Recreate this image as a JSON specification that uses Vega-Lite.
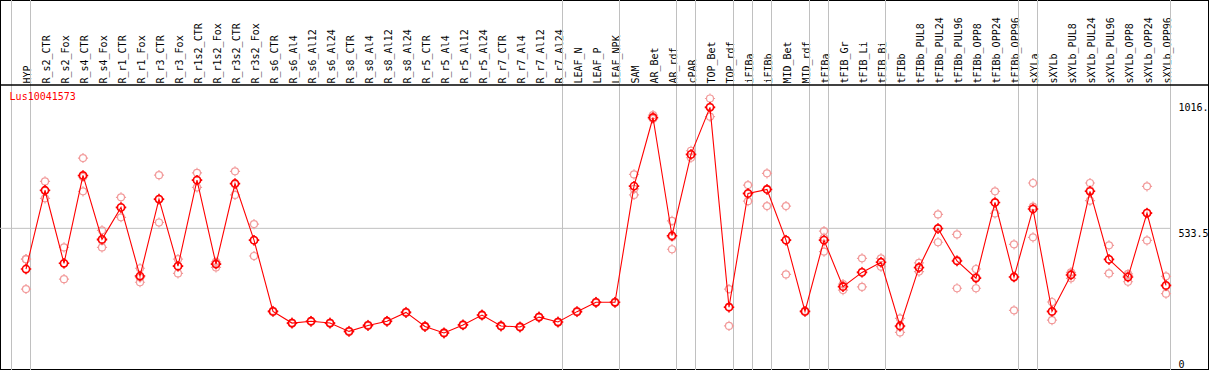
{
  "$schema": "https://vega.github.io/schema/vega-lite/v6.json",
  "width": 1209,
  "height": 370,
  "autosize": {"type": "none"},
  "padding": 0,
  "background": "white",
  "config": {
    "view": {"stroke": "black", "strokeWidth": 2},
    "font": "DejaVu Sans Mono",
    "axis": {"labelFont": "DejaVu Sans Mono", "labelFontSize": 10, "labelColor": "black", "domain": false, "ticks": false, "grid": false, "title": null}
  },
  "datasets": {
    "expr": [
      {"s": "HYP", "m": 377, "r1": 415, "r2": 415, "r3": 300},
      {"s": "R_s2_CTR", "m": 680, "r1": 714, "r2": 678, "r3": 649},
      {"s": "R_s2_Fox", "m": 399, "r1": 460, "r2": 399, "r3": 338},
      {"s": "R_s4_CTR", "m": 737, "r1": 804, "r2": 731, "r3": 676},
      {"s": "R_s4_Fox", "m": 491, "r1": 526, "r2": 487, "r3": 460},
      {"s": "R_r1_CTR", "m": 614, "r1": 653, "r2": 613, "r3": 576},
      {"s": "R_r1_Fox", "m": 350, "r1": 380, "r2": 344, "r3": 326},
      {"s": "R_r3_CTR", "m": 646, "r1": 738, "r2": 644, "r3": 556},
      {"s": "R_r3_Fox", "m": 388, "r1": 415, "r2": 389, "r3": 360},
      {"s": "R_r1s2_CTR", "m": 719, "r1": 747, "r2": 719, "r3": 691},
      {"s": "R_r1s2_Fox", "m": 396, "r1": 405, "r2": 400, "r3": 383},
      {"s": "R_r3s2_CTR", "m": 706, "r1": 753, "r2": 703, "r3": 662},
      {"s": "R_r3s2_Fox", "m": 488, "r1": 550, "r2": 487, "r3": 427},
      {"s": "R_s6_CTR", "m": 214, "r1": 216, "r2": 214, "r3": 212},
      {"s": "R_s6_Al4", "m": 169, "r1": 171, "r2": 169, "r3": 167},
      {"s": "R_s6_Al12", "m": 176, "r1": 178, "r2": 176, "r3": 174},
      {"s": "R_s6_Al24", "m": 169, "r1": 171, "r2": 169, "r3": 167},
      {"s": "R_s8_CTR", "m": 137, "r1": 139, "r2": 137, "r3": 135},
      {"s": "R_s8_Al4", "m": 160, "r1": 162, "r2": 160, "r3": 158},
      {"s": "R_s8_Al12", "m": 176, "r1": 178, "r2": 176, "r3": 174},
      {"s": "R_s8_Al24", "m": 210, "r1": 212, "r2": 210, "r3": 208},
      {"s": "R_r5_CTR", "m": 156, "r1": 158, "r2": 156, "r3": 154},
      {"s": "R_r5_Al4", "m": 131, "r1": 133, "r2": 131, "r3": 129},
      {"s": "R_r5_Al12", "m": 162, "r1": 164, "r2": 162, "r3": 160},
      {"s": "R_r5_Al24", "m": 200, "r1": 202, "r2": 200, "r3": 198},
      {"s": "R_r7_CTR", "m": 158, "r1": 160, "r2": 158, "r3": 156},
      {"s": "R_r7_Al4", "m": 154, "r1": 156, "r2": 154, "r3": 152},
      {"s": "R_r7_Al12", "m": 192, "r1": 194, "r2": 192, "r3": 190},
      {"s": "R_r7_Al24", "m": 173, "r1": 175, "r2": 173, "r3": 171},
      {"s": "LEAF_N", "m": 213, "r1": 215, "r2": 213, "r3": 211},
      {"s": "LEAF_P", "m": 249, "r1": 251, "r2": 249, "r3": 247},
      {"s": "LEAF_NPK", "m": 249, "r1": 251, "r2": 249, "r3": 247},
      {"s": "SAM", "m": 696, "r1": 741, "r2": 685, "r3": 662},
      {"s": "AR_Bet", "m": 960, "r1": 969, "r2": 956, "r3": 955},
      {"s": "AR_rdf", "m": 505, "r1": 562, "r2": 500, "r3": 453},
      {"s": "cPAR", "m": 818, "r1": 832, "r2": 817, "r3": 805},
      {"s": "TOP_Bet", "m": 999, "r1": 1033, "r2": 1001, "r3": 963},
      {"s": "TOP_rdf", "m": 230, "r1": 300, "r2": 232, "r3": 158},
      {"s": "iFIBa", "m": 668, "r1": 700, "r2": 666, "r3": 638},
      {"s": "iFIBb", "m": 683, "r1": 745, "r2": 685, "r3": 619},
      {"s": "MID_Bet", "m": 488, "r1": 619, "r2": 489, "r3": 356},
      {"s": "MID_rdf", "m": 214, "r1": 216, "r2": 214, "r3": 212},
      {"s": "tFIBa", "m": 488, "r1": 523, "r2": 497, "r3": 444},
      {"s": "tFIB_Gr", "m": 309, "r1": 319, "r2": 312, "r3": 296},
      {"s": "tFIB_Li", "m": 364, "r1": 418, "r2": 366, "r3": 308},
      {"s": "tFIB_Bi", "m": 403, "r1": 418, "r2": 405, "r3": 386},
      {"s": "tFIBb", "m": 158, "r1": 187, "r2": 154, "r3": 133},
      {"s": "tFIBb_PUL8", "m": 383, "r1": 401, "r2": 381, "r3": 367},
      {"s": "tFIBb_PUL24", "m": 533, "r1": 587, "r2": 532, "r3": 480},
      {"s": "tFIBb_PUL96", "m": 408, "r1": 510, "r2": 411, "r3": 303},
      {"s": "tFIBb_OPP8", "m": 342, "r1": 377, "r2": 346, "r3": 303},
      {"s": "tFIBb_OPP24", "m": 633, "r1": 676, "r2": 632, "r3": 591},
      {"s": "tFIBb_OPP96", "m": 346, "r1": 472, "r2": 348, "r3": 218},
      {"s": "sXYLa", "m": 608, "r1": 708, "r2": 617, "r3": 499},
      {"s": "sXYLb", "m": 214, "r1": 250, "r2": 212, "r3": 180},
      {"s": "sXYLb_PUL8", "m": 354, "r1": 364, "r2": 357, "r3": 341},
      {"s": "sXYLb_PUL24", "m": 676, "r1": 708, "r2": 680, "r3": 640},
      {"s": "sXYLb_PUL96", "m": 414, "r1": 468, "r2": 414, "r3": 360},
      {"s": "sXYLb_OPP8", "m": 346, "r1": 358, "r2": 352, "r3": 328},
      {"s": "sXYLb_OPP24", "m": 592, "r1": 695, "r2": 594, "r3": 487},
      {"s": "sXYLb_OPP96", "m": 314, "r1": 349, "r2": 311, "r3": 282}
    ],
    "groups": [
      {"s": "HYP"}, {"s": "R_s2_CTR"}, {"s": "LEAF_N"}, {"s": "SAM"}, {"s": "cPAR"}, {"s": "TOP_Bet"}, {"s": "iFIBa"}, {"s": "iFIBb"}, {"s": "MID_Bet"}, {"s": "tFIBa"}, {"s": "tFIB_Gr"}, {"s": "tFIBb"}, {"s": "sXYLa"}, {"s": "sXYLb"}
    ],
    "last": [{"s": "sXYLb_OPP96"}],
    "title": [{"s": "HYP", "label": "Lus10041573", "v": 1040}]
  },
  "layer": [
    {
      "data": {"name": "groups"},
      "mark": {"type": "rule", "color": "#c0c0c0", "strokeWidth": 1},
      "encoding": {
        "x": {"field": "s", "type": "nominal", "sort": null, "bandPosition": 0,
          "scale": {"type": "band", "domain": ["HYP","R_s2_CTR","R_s2_Fox","R_s4_CTR","R_s4_Fox","R_r1_CTR","R_r1_Fox","R_r3_CTR","R_r3_Fox","R_r1s2_CTR","R_r1s2_Fox","R_r3s2_CTR","R_r3s2_Fox","R_s6_CTR","R_s6_Al4","R_s6_Al12","R_s6_Al24","R_s8_CTR","R_s8_Al4","R_s8_Al12","R_s8_Al24","R_r5_CTR","R_r5_Al4","R_r5_Al12","R_r5_Al24","R_r7_CTR","R_r7_Al4","R_r7_Al12","R_r7_Al24","LEAF_N","LEAF_P","LEAF_NPK","SAM","AR_Bet","AR_rdf","cPAR","TOP_Bet","TOP_rdf","iFIBa","iFIBb","MID_Bet","MID_rdf","tFIBa","tFIB_Gr","tFIB_Li","tFIB_Bi","tFIBb","tFIBb_PUL8","tFIBb_PUL24","tFIBb_PUL96","tFIBb_OPP8","tFIBb_OPP24","tFIBb_OPP96","sXYLa","sXYLb","sXYLb_PUL8","sXYLb_PUL24","sXYLb_PUL96","sXYLb_OPP8","sXYLb_OPP24","sXYLb_OPP96"], "range": [11.5, 1170.5], "paddingInner": 0, "paddingOuter": 0},
          "axis": {"orient": "top", "offset": -85, "bandPosition": 0.763, "labelOffset": 7, "labelAngle": 270, "labelAlign": "left", "labelBaseline": "middle", "labelPadding": 2, "labelLimit": 0, "labelOverlap": false, "labelFlush": false}
        }
      }
    },
    {
      "data": {"name": "last"},
      "mark": {"type": "rule", "color": "#c0c0c0", "strokeWidth": 1},
      "encoding": {
        "x": {"field": "s", "type": "nominal", "sort": null, "bandPosition": 1}
      }
    },
    {
      "data": {"values": [{"v": 533.5}]},
      "mark": {"type": "rule", "color": "#c0c0c0", "strokeWidth": 1},
      "encoding": {
        "y": {"field": "v", "type": "quantitative",
          "scale": {"domain": [0, 1085], "range": [367, 85], "nice": false, "zero": false},
          "axis": {"orient": "right", "offset": -33, "values": [0, 533.5, 1016], "labelPadding": 2, "labelAlign": "left", "labelFlush": false, "labelBound": false, "labelOverlap": false,
            "labelExpr": "datum.value == 1016 ? '1016.' : (datum.value == 0 ? '0' : '533.5')",
            "labelBaseline": {"condition": {"test": "datum.value == 0", "value": "alphabetic"}, "value": "top"}}
        },
        "x": {"datum": "HYP", "type": "nominal", "bandPosition": -0.61},
        "x2": {"datum": "sXYLb_OPP96", "bandPosition": 1}
      }
    },
    {
      "data": {"name": "expr"},
      "transform": [{"fold": ["r1", "r2", "r3"], "as": ["rep", "val"]}],
      "mark": {"type": "point", "shape": "M1,0A1,1,0,1,1,-1,0A1,1,0,1,1,1,0ZM0,-1L0,-1.45M0,1L0,1.45M-1,0L-1.45,0M1,0L1.45,0", "filled": false, "size": 49, "strokeWidth": 1.2, "color": "#f29a9a", "opacity": 1},
      "encoding": {
        "x": {"field": "s", "type": "nominal", "sort": null, "bandPosition": 0.763},
        "y": {"field": "val", "type": "quantitative"}
      }
    },
    {
      "data": {"name": "expr"},
      "mark": {"type": "line", "color": "#ff0000", "strokeWidth": 1.1},
      "encoding": {
        "x": {"field": "s", "type": "nominal", "sort": null, "bandPosition": 0.763},
        "y": {"field": "m", "type": "quantitative"}
      }
    },
    {
      "data": {"name": "expr"},
      "mark": {"type": "point", "shape": "M1,0A1,1,0,1,1,-1,0A1,1,0,1,1,1,0ZM0,-1L0,-1.45M0,1L0,1.45M-1,0L-1.45,0M1,0L1.45,0", "filled": false, "size": 52, "strokeWidth": 1.6, "color": "#ff0000", "opacity": 1},
      "encoding": {
        "x": {"field": "s", "type": "nominal", "sort": null, "bandPosition": 0.763},
        "y": {"field": "m", "type": "quantitative"}
      }
    },
    {
      "data": {"values": [{"v": 1085}]},
      "mark": {"type": "rule", "color": "black", "strokeWidth": 1.5},
      "encoding": {
        "y": {"field": "v", "type": "quantitative"}
      }
    },
    {
      "data": {"name": "title"},
      "mark": {"type": "text", "color": "#ff0000", "font": "DejaVu Sans Mono", "fontSize": 10, "align": "left", "baseline": "middle"},
      "encoding": {
        "x": {"field": "s", "type": "nominal", "sort": null, "bandPosition": -0.1},
        "y": {"field": "v", "type": "quantitative"},
        "text": {"field": "label"}
      }
    }
  ]
}
